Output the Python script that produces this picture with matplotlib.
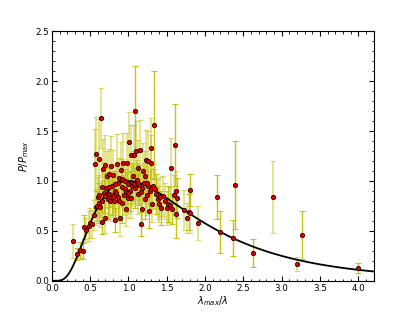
import numpy as np
import matplotlib
matplotlib.use("Agg")
import matplotlib.pyplot as plt
from matplotlib.ticker import MultipleLocator

# measured points: lambda_max/lambda, P/P_max, error, dark bar (1) or pale bar (0)
x = [0.27, 0.33, 0.37, 0.40, 0.42, 0.45, 0.48, 0.50, 0.53, 0.55,
     0.56, 0.57, 0.58, 0.59, 0.60, 0.61, 0.62, 0.62, 0.63, 0.64,
     0.65, 0.66, 0.67, 0.68, 0.69, 0.70, 0.71, 0.72, 0.73, 0.74,
     0.75, 0.76, 0.77, 0.78, 0.79, 0.80, 0.81, 0.82, 0.83, 0.84,
     0.85, 0.86, 0.87, 0.88, 0.89, 0.90, 0.91, 0.92, 0.93, 0.94,
     0.95, 0.96, 0.97, 0.98, 0.99, 1.00, 1.01, 1.02, 1.03, 1.04,
     1.05, 1.06, 1.07, 1.08, 1.09, 1.10, 1.11, 1.12, 1.13, 1.14,
     1.15, 1.16, 1.17, 1.18, 1.19, 1.20, 1.21, 1.22, 1.23, 1.24,
     1.25, 1.26, 1.27, 1.28, 1.29, 1.30, 1.31, 1.32, 1.34, 1.35,
     1.36, 1.38, 1.40, 1.41, 1.43, 1.45, 1.48, 1.50, 1.52, 1.54,
     1.55, 1.57, 1.59, 1.61, 1.62, 1.62, 1.64, 1.72, 1.77, 1.79,
     1.80, 1.81, 1.91, 2.16, 2.20, 2.36, 2.39, 2.62, 2.89, 3.20,
     3.27, 4.00,
     0.66, 0.70, 0.74, 0.80, 0.83, 0.88, 0.92, 0.97, 1.00, 1.03,
     1.07, 1.12, 1.18, 1.24, 1.30]
y = [0.40, 0.27, 0.31, 0.30, 0.54, 0.51, 0.55, 0.58, 0.57, 0.66,
     1.17, 0.74, 1.27, 0.75, 0.84, 0.78, 1.22, 0.86, 0.74, 1.63,
     0.59, 0.94, 1.12, 0.88, 0.63, 1.16, 0.93, 1.05, 0.82, 0.87,
     1.07, 0.80, 1.15, 0.86, 0.95, 1.06, 0.80, 0.90, 0.61, 0.88,
     1.17, 0.84, 0.98, 1.03, 0.63, 1.11, 0.78, 0.94, 1.18, 0.86,
     1.00, 0.92, 0.72, 1.18, 0.83, 0.97, 1.39, 0.90, 1.26, 0.98,
     0.95, 1.05, 1.26, 0.93, 1.70, 1.30, 1.01, 0.87, 1.13, 0.96,
     1.31, 0.57, 0.89, 0.72, 1.10, 0.98, 0.82, 1.05, 1.21, 0.86,
     0.95, 1.20, 0.70, 0.90, 1.33, 1.18, 0.77, 0.95, 1.56, 0.92,
     0.87, 0.82, 0.77, 0.84, 0.73, 0.85, 0.80, 0.73, 0.77, 0.76,
     1.13, 0.72, 0.86, 1.36, 0.67, 0.90, 0.83, 0.71, 0.63, 0.69,
     0.91, 0.68, 0.58, 0.84, 0.49, 0.43, 0.96, 0.28, 0.84, 0.17,
     0.46, 0.13,
     0.80, 0.85, 0.94, 0.84, 0.97, 0.80, 1.02, 0.89, 0.88, 0.83,
     0.97, 0.98, 0.93, 0.98, 0.92]
err = [0.17, 0.06, 0.08, 0.08, 0.12, 0.12, 0.15, 0.15, 0.14, 0.15,
       0.35, 0.18, 0.37, 0.15, 0.20, 0.20, 0.40, 0.20, 0.20, 0.30,
       0.12, 0.25, 0.30, 0.20, 0.15, 0.30, 0.20, 0.25, 0.20, 0.20,
       0.25, 0.20, 0.30, 0.20, 0.20, 0.25, 0.20, 0.20, 0.12, 0.22,
       0.30, 0.20, 0.20, 0.20, 0.18, 0.28, 0.20, 0.20, 0.30, 0.20,
       0.20, 0.20, 0.17, 0.30, 0.20, 0.20, 0.30, 0.20, 0.30, 0.20,
       0.20, 0.25, 0.30, 0.20, 0.45, 0.30, 0.20, 0.20, 0.28, 0.20,
       0.30, 0.12, 0.20, 0.17, 0.28, 0.20, 0.20, 0.25, 0.30, 0.20,
       0.20, 0.30, 0.17, 0.20, 0.30, 0.28, 0.18, 0.22, 0.54, 0.20,
       0.20, 0.20, 0.18, 0.20, 0.17, 0.20, 0.18, 0.17, 0.18, 0.18,
       0.30, 0.15, 0.20, 0.41, 0.24, 0.20, 0.20, 0.20, 0.15, 0.18,
       0.16, 0.20, 0.17, 0.22, 0.21, 0.18, 0.44, 0.14, 0.36, 0.07,
       0.24, 0.05,
       0.20, 0.20, 0.20, 0.20, 0.20, 0.20, 0.20, 0.20, 0.20, 0.20,
       0.20, 0.20, 0.20, 0.20, 0.20]
dark = [0, 1, 1, 1, 1, 0, 0, 0, 0, 0,
        0, 0, 0, 1, 0, 1, 0, 0, 0, 0,
        1, 0, 0, 1, 0, 0, 0, 0, 1, 0,
        0, 0, 0, 1, 0, 0, 0, 0, 1, 0,
        0, 1, 0, 0, 0, 0, 1, 0, 0, 0,
        0, 1, 0, 0, 0, 0, 0, 1, 0, 0,
        0, 0, 0, 1, 1, 0, 0, 0, 0, 1,
        0, 1, 0, 0, 0, 0, 1, 0, 0, 0,
        0, 0, 1, 0, 0, 0, 0, 0, 1, 0,
        1, 0, 0, 0, 1, 0, 0, 0, 1, 0,
        0, 1, 0, 1, 1, 0, 1, 0, 0, 1,
        1, 0, 0, 1, 1, 1, 1, 1, 0, 0,
        1, 1,
        0, 0, 1, 0, 0, 0, 0, 0, 0, 0,
        0, 0, 0, 0, 0]

# Serkowski law
K = 1.15

x = np.array(x)
y = np.array(y)
err = np.array(err)
dark = np.array(dark, dtype=bool)

fig = plt.figure(figsize=(4.15, 3.12), dpi=100)
ax = fig.add_subplot(111)
fig.subplots_adjust(left=0.125, right=0.9, bottom=0.1, top=0.9)

ax.errorbar(x[~dark], y[~dark], yerr=err[~dark], fmt='none', ecolor='y',
            alpha=0.5, elinewidth=1.2, capsize=2, capthick=0.8, zorder=1)
ax.errorbar(x[dark], y[dark], yerr=err[dark], fmt='none', ecolor='y',
            alpha=0.9, elinewidth=1.0, capsize=2, capthick=0.8, zorder=1)

xx = np.linspace(0.01, 4.2, 500)
ax.plot(xx, np.exp(-K * np.log(xx)**2), 'k-', lw=1.3, zorder=2)

ax.plot(x, y, 'o', mfc='#dd0000', mec='#300000', mew=0.6, ms=3.1, zorder=3)

ax.set_xlim(0, 4.2)
ax.set_ylim(0, 2.5)
ax.xaxis.set_major_locator(MultipleLocator(0.5))
ax.yaxis.set_major_locator(MultipleLocator(0.5))
ax.xaxis.set_minor_locator(MultipleLocator(0.1))
ax.yaxis.set_minor_locator(MultipleLocator(0.1))
ax.tick_params(which='both', direction='in', top=True, right=True,
               labelsize=6.3, pad=2)
ax.tick_params(which='major', length=3.5, width=0.8)
ax.tick_params(which='minor', length=1.8, width=0.6)
ax.set_xticklabels(['%.1f' % t for t in ax.get_xticks()])
ax.set_yticklabels(['%.1f' % t for t in ax.get_yticks()])

ax.set_xlabel(r'$\lambda_{max}/\lambda$', fontsize=7, labelpad=1)
ax.set_ylabel(r'$P/P_{max}$', fontsize=7, labelpad=3)

fig.savefig('out.png', dpi=100)
